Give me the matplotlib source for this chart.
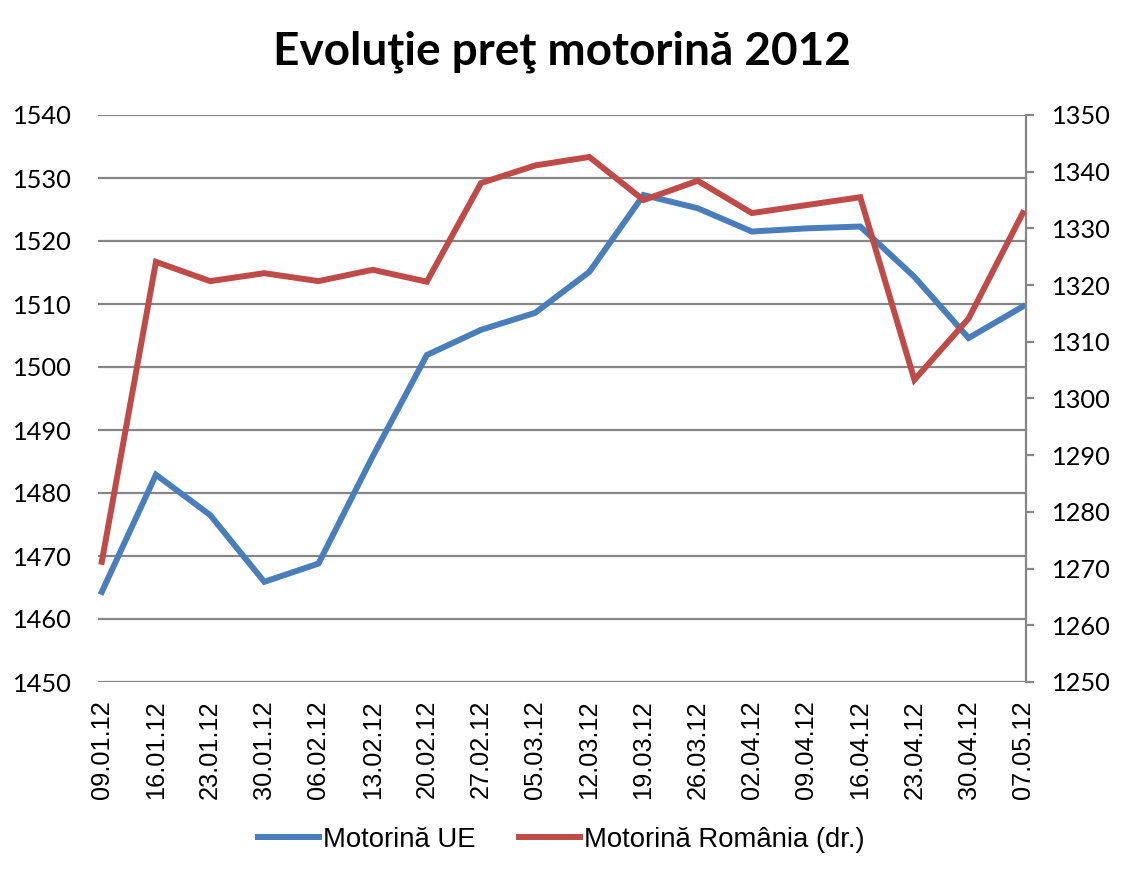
import matplotlib
matplotlib.use("Agg")
import matplotlib.pyplot as plt
from matplotlib.ticker import MultipleLocator

dates = ["09.01.12", "16.01.12", "23.01.12", "30.01.12", "06.02.12", "13.02.12",
         "20.02.12", "27.02.12", "05.03.12", "12.03.12", "19.03.12", "26.03.12",
         "02.04.12", "09.04.12", "16.04.12", "23.04.12", "30.04.12", "07.05.12"]
motorina_ue = [1464.3, 1482.9, 1476.5, 1465.9, 1468.8, 1485.8,
               1501.9, 1505.9, 1508.6, 1515.1, 1527.3, 1525.2,
               1521.5, 1522.0, 1522.3, 1514.3, 1504.6, 1509.6]
motorina_ro = [1271.2, 1324.1, 1320.7, 1322.1, 1320.7, 1322.7,
               1320.6, 1338.0, 1341.1, 1342.6, 1335.0, 1338.4,
               1332.7, 1334.1, 1335.5, 1303.3, 1314.1, 1332.7]

blue = "#4A7EBB"
red = "#BE4B48"
grid_col = "#868686"

fig = plt.figure(figsize=(11.23, 8.81), dpi=100)
ax = fig.add_axes([98 / 1123, 1 - 682 / 881, (1026 - 98) / 1123, (682 - 115) / 881])
ax2 = ax.twinx()

x = list(range(len(dates)))
l1, = ax.plot(x, motorina_ue, color=blue, lw=4.3, solid_joinstyle="miter",
              label="Motorină UE", zorder=3)
l2, = ax2.plot(x, motorina_ro, color=red, lw=4.3, solid_joinstyle="miter",
               label="Motorină România (dr.)", zorder=3)

ax.set_xlim(-0.07, 17.06)
ax.set_ylim(1450, 1540)
ax2.set_ylim(1250, 1350)
ax.yaxis.set_major_locator(MultipleLocator(10))
ax2.yaxis.set_major_locator(MultipleLocator(10))

ax.grid(axis="y", color=grid_col, lw=1.6)
ax.set_axisbelow(True)
for a in (ax, ax2):
    for s in ("left", "top", "bottom"):
        a.spines[s].set_visible(False)
ax.spines["right"].set_visible(False)
ax2.spines["right"].set_color(grid_col)
ax2.spines["right"].set_linewidth(1.6)

ax.set_xticks(x)
ax.set_xticklabels(dates, rotation=90, family="Liberation Sans", fontsize=18.3)
ax.tick_params(axis="x", length=0, pad=13)
ax.tick_params(axis="y", length=0, pad=19)
ax2.tick_params(axis="y", length=6, width=1.6, color=grid_col, pad=13)
for lab in ax.get_yticklabels() + ax2.get_yticklabels():
    lab.set_family("Lato")
    lab.set_fontsize(18.3)

fig.text(0.5, 1 - 52 / 881, "Evoluţie preţ motorină 2012", ha="center", va="center",
         family="Lato", fontweight="bold", fontsize=33)

fig.legend(handles=[l1, l2], loc="center", bbox_to_anchor=(0.5, 1 - 840 / 881),
           ncol=2, frameon=False, handlelength=2.2, handletextpad=0.15,
           columnspacing=1.6, prop={"family": "Liberation Sans", "size": 19.8})

fig.savefig("out.png", dpi=100)
